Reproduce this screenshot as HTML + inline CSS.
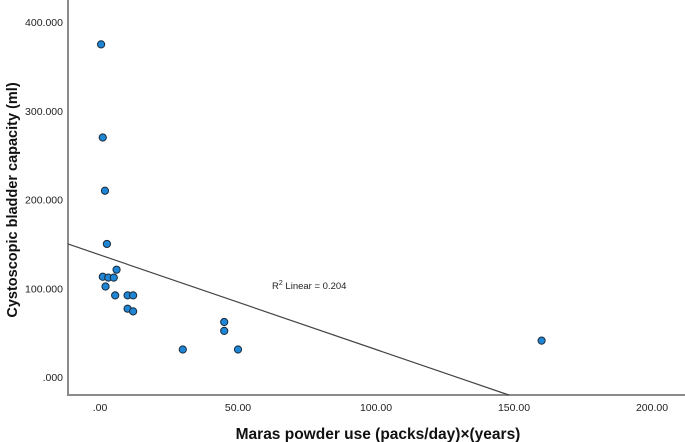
<!DOCTYPE html>
<html><head><meta charset="utf-8"><style>
html,body{margin:0;padding:0;background:#fff;}
svg{display:block;font-family:"Liberation Sans",Arial,sans-serif;}
</style></head><body>
<svg id="chart" width="685" height="442" viewBox="0 0 685 442">
<g id="axes"></g><g id="marks"></g>
</svg>
<script>
const xValues=[0.4,1,1.8,2.5,1,3,5,6,2,5.5,10,12,10,12,30,45,45,50,160];
const yValues=[375,270,210,150,113,112,112,121,102,92,92,92,77,74,31,62,52,31,41];
const xTicks=[0,50,100,150,200];
const xTickLabels=[".00","50.00","100.00","150.00","200.00"];
const yTicks=[0,100,200,300,400];
const yTickLabels=[".000","100.000","200.000","300.000","400.000"];
const fitIntercept=137.6;
const fitSlope=-1.066;
const r2Label="0.204";
const NS="http://www.w3.org/2000/svg";
const X0=68,Y0=395;
const xs=v=>100+v*2.76;
const ys=v=>377-v*0.887;
const xMin=(X0-100)/2.76, yMin=(377-Y0)/0.887;
function mk(tag,attrs,parent,text){const e=document.createElementNS(NS,tag);for(const k in attrs)e.setAttribute(k,attrs[k]);if(text!==undefined)e.textContent=text;parent.appendChild(e);return e;}
const axes=document.getElementById('axes'),marks=document.getElementById('marks');
let e=mk('line',{x1:X0,y1:0,x2:X0,y2:Y0,stroke:'#8a8a8a','stroke-width':2},axes);


e=mk('line',{x1:X0-1,y1:Y0,x2:685,y2:Y0,stroke:'#8a8a8a','stroke-width':2},axes);


xTicks.forEach((t,i)=>{const l=mk('text',{x:xs(t),y:411,'text-anchor':'middle','font-size':10.5,fill:'#222'},axes,xTickLabels[i]);

});
yTicks.forEach((t,i)=>{const l=mk('text',{x:63,y:ys(t)+4,'text-anchor':'end','font-size':10.5,fill:'#222'},axes,yTickLabels[i]);

});
e=mk('text',{x:378,y:439,'text-anchor':'middle','font-size':15.5,'font-weight':'bold',fill:'#111'},axes,'Maras powder use (packs/day)×(years)');


e=mk('text',{x:0,y:0,transform:'translate(17,200) rotate(-90)','text-anchor':'middle','font-size':14.5,'font-weight':'bold',fill:'#111'},axes,'Cystoscopic bladder capacity (ml)');


// fit line, clipped to axes
const xEnd=(yMin-fitIntercept)/fitSlope;
e=mk('line',{x1:xs(xMin),y1:ys(fitIntercept+fitSlope*xMin),x2:xs(xEnd),y2:ys(yMin),stroke:'#444','stroke-width':1.2},marks);


const t=mk('text',{x:272,y:289,'font-size':9.5,fill:'#222'},marks);


t.innerHTML='R<tspan dy="-4" font-size="7">2</tspan><tspan dy="4"> Linear = '+r2Label+'</tspan>';
xValues.forEach((x,i)=>{const c=mk('circle',{cx:xs(x),cy:ys(yValues[i]),r:3.6,fill:'#1f86d6',stroke:'#1a2a3a','stroke-width':1},marks);

});
</script>
</body></html>
